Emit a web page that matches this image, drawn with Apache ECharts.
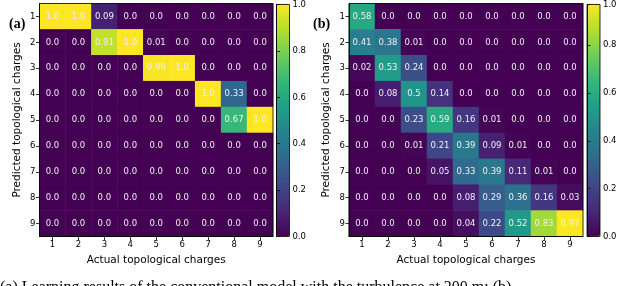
<!DOCTYPE html>
<html>
<head>
<meta charset="utf-8">
<script src="https://cdn.jsdelivr.net/npm/echarts@6/dist/echarts.min.js"></script>
<style>html,body{margin:0;padding:0;background:#fff;}#c{width:640px;height:286px;}</style>
</head>
<body>
<div id="c"></div>
<script>
const actualLabels = ['1','2','3','4','5','6','7','8','9'];
const predictedLabels = ['1','2','3','4','5','6','7','8','9'];
// rows = predicted (1..9 top to bottom), cols = actual (1..9)
const matrixA = [
  [1.0, 1.0, 0.09, 0.0, 0.0, 0.0, 0.0, 0.0, 0.0],
  [0.0, 0.0, 0.91, 1.0, 0.01, 0.0, 0.0, 0.0, 0.0],
  [0.0, 0.0, 0.0, 0.0, 0.99, 1.0, 0.0, 0.0, 0.0],
  [0.0, 0.0, 0.0, 0.0, 0.0, 0.0, 1.0, 0.33, 0.0],
  [0.0, 0.0, 0.0, 0.0, 0.0, 0.0, 0.0, 0.67, 1.0],
  [0.0, 0.0, 0.0, 0.0, 0.0, 0.0, 0.0, 0.0, 0.0],
  [0.0, 0.0, 0.0, 0.0, 0.0, 0.0, 0.0, 0.0, 0.0],
  [0.0, 0.0, 0.0, 0.0, 0.0, 0.0, 0.0, 0.0, 0.0],
  [0.0, 0.0, 0.0, 0.0, 0.0, 0.0, 0.0, 0.0, 0.0]
];
const matrixB = [
  [0.58, 0.0, 0.0, 0.0, 0.0, 0.0, 0.0, 0.0, 0.0],
  [0.41, 0.38, 0.01, 0.0, 0.0, 0.0, 0.0, 0.0, 0.0],
  [0.02, 0.53, 0.24, 0.0, 0.0, 0.0, 0.0, 0.0, 0.0],
  [0.0, 0.08, 0.5, 0.14, 0.0, 0.0, 0.0, 0.0, 0.0],
  [0.0, 0.0, 0.23, 0.59, 0.16, 0.01, 0.0, 0.0, 0.0],
  [0.0, 0.0, 0.01, 0.21, 0.39, 0.09, 0.01, 0.0, 0.0],
  [0.0, 0.0, 0.0, 0.05, 0.33, 0.39, 0.11, 0.01, 0.0],
  [0.0, 0.0, 0.0, 0.0, 0.08, 0.29, 0.36, 0.16, 0.03],
  [0.0, 0.0, 0.0, 0.0, 0.04, 0.22, 0.52, 0.83, 0.97]
];
const colorbarMaxA = 1.0;
const colorbarMaxB = 0.97;
const colorbarTickStep = 0.2;
const xTitle = 'Actual topological charges';
const yTitle = 'Predicted topological charges';
const panelLabels = ['(a)', '(b)'];
const caption = '(a) Learning results of the conventional model with the turbulence at 200 m; (b)';

const viridis = ['#440154','#482878','#3e4989','#31688e','#26828e','#1f9e89','#35b779','#6ece58','#b5de2b','#fde725'];
const FONT = 'DejaVu Sans';

function toData(m) {
  const out = [];
  m.forEach((row, r) => row.forEach((v, c) => out.push([c, r, v])));
  return out;
}
function fmt(v) {
  const s = String(Math.round(v * 100) / 100);
  return s.indexOf('.') < 0 ? s + '.0' : s;
}

const panels = [
  {left: 39.5, width: 233.5, cbLeft: 276.5, max: colorbarMaxA, data: matrixA},
  {left: 349, width: 234, cbLeft: 587, max: colorbarMaxB, data: matrixB}
];
const gTop = 3.5, gHeight = 233;

const grid = [], xAxis = [], yAxis = [], series = [], visualMap = [];
panels.forEach((p, i) => {
  const gi = grid.length;
  grid.push({left: p.left, top: gTop, width: p.width, height: gHeight, show: true, borderColor: '#000', borderWidth: 0.8, backgroundColor: 'transparent', z: 10});
  grid.push({left: p.cbLeft, top: gTop, width: 13, height: gHeight, show: true, borderColor: '#000', borderWidth: 0.8, backgroundColor: 'transparent', z: 10});
  xAxis.push({
    type: 'category', gridIndex: gi, data: actualLabels, position: 'bottom', z: 10,
    axisLine: {show: true, lineStyle: {color: '#000', width: 0.8}},
    axisTick: {show: true, alignWithLabel: true, length: 3.5, lineStyle: {color: '#000', width: 0.8}},
    axisLabel: {color: '#000', fontFamily: FONT, fontSize: 8.5, margin: 4},
    splitLine: {show: false},
    name: xTitle, nameLocation: 'middle', nameGap: 16,
    nameTextStyle: {color: '#000', fontFamily: FONT, fontSize: 10.5}
  });
  xAxis.push({type: 'value', gridIndex: gi + 1, show: false, min: 0, max: 1});
  yAxis.push({
    type: 'category', gridIndex: gi, data: predictedLabels, inverse: true, z: 10,
    axisLine: {show: true, lineStyle: {color: '#000', width: 0.8}},
    axisTick: {show: true, alignWithLabel: true, length: 3.5, lineStyle: {color: '#000', width: 0.8}},
    axisLabel: {color: '#000', fontFamily: FONT, fontSize: 8.5, margin: 4},
    splitLine: {show: false},
    name: yTitle, nameLocation: 'middle', nameGap: 17, nameRotate: 90,
    nameTextStyle: {color: '#000', fontFamily: FONT, fontSize: 10.5}
  });
  yAxis.push({
    type: 'value', gridIndex: gi + 1, position: 'right', min: 0, max: p.max, interval: colorbarTickStep, z: 10,
    axisLine: {show: true, lineStyle: {color: '#000', width: 0.8}},
    axisTick: {show: true, length: 3.5, lineStyle: {color: '#000', width: 0.8}},
    axisLabel: {color: '#000', fontFamily: FONT, fontSize: 8.5, margin: 3, formatter: v => v.toFixed(1)},
    splitLine: {show: false}
  });
  series.push({
    type: 'heatmap', xAxisIndex: gi, yAxisIndex: gi, data: toData(p.data),
    itemStyle: {borderWidth: 0},
    label: {show: true, color: '#f0f0f0', fontFamily: FONT, fontSize: 8.5, formatter: d => fmt(d.value[2])},
    emphasis: {disabled: true}
  });
  visualMap.push({
    type: 'continuous', seriesIndex: i, min: 0, max: p.max, calculable: false, hoverLink: false,
    orient: 'vertical', left: p.cbLeft, top: gTop, itemWidth: 13, itemHeight: gHeight, padding: 0,
    inRange: {color: viridis}, text: null, showLabel: false
  });
});

const title = [
  {text: panelLabels[0], left: 4, top: 12, textStyle: {fontFamily: 'Liberation Serif', fontWeight: 'bold', fontSize: 14, color: '#000'}},
  {text: panelLabels[1], left: 308, top: 12, textStyle: {fontFamily: 'Liberation Serif', fontWeight: 'bold', fontSize: 14, color: '#000'}},
  {text: caption, left: 0, top: 280, padding: 0, textStyle: {fontFamily: 'Liberation Serif', fontWeight: 'normal', fontSize: 16, color: '#000'}}
];

const chart = echarts.init(document.getElementById('c'), null, {renderer: 'canvas'});
chart.setOption({animation: false, title, grid, xAxis, yAxis, series, visualMap});
</script>
</body>
</html>
